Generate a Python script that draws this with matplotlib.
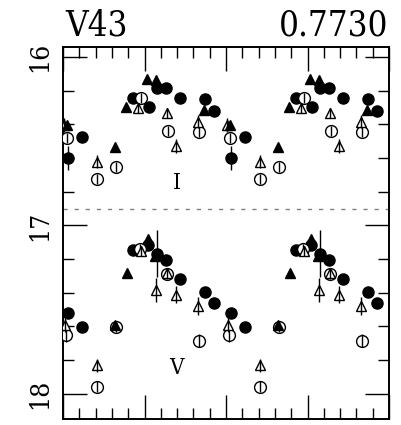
import numpy as np
import matplotlib
matplotlib.use("Agg")
import matplotlib.pyplot as plt
from matplotlib.ticker import MultipleLocator

# star name and period
star = "V43"
period = "0.7730"

# I band (upper curve), phase in [-0.5, 0.5)
I_fc_ph = [-0.385, -0.467, -0.069, 0.028, 0.075, 0.130, 0.218, 0.371, 0.426]
I_fc_mag = [16.473, 16.601, 16.245, 16.295, 16.182, 16.182, 16.245, 16.251, 16.320]
I_fc_err = [0.0, 0.07, 0.0, 0.0, 0.0, 0.0, 0.0, 0.0, 0.0]

I_ft_ph = [-0.477, -0.181, -0.113, 0.017, 0.071, 0.365]
I_ft_mag = [16.404, 16.536, 16.295, 16.132, 16.136, 16.315]

I_oc_ph = [-0.477, -0.293, -0.175, -0.023, 0.142, 0.336]
I_oc_mag = [16.481, 16.726, 16.651, 16.245, 16.439, 16.443]
I_oc_err = [0.03, 0.03, 0.03, 0.03, 0.03, 0.03]

I_ot_ph = [-0.496, -0.293, -0.042, 0.136, 0.193, 0.326]
I_ot_mag = [16.404, 16.621, 16.304, 16.334, 16.528, 16.384]
I_ot_err = [0.04, 0.04, 0.03, 0.03, 0.04, 0.04]

# V band (lower curve)
V_fc_ph = [-0.467, -0.385, -0.072, 0.023, 0.075, 0.130, 0.218, 0.371, 0.426]
V_fc_mag = [17.518, 17.601, 17.145, 17.116, 17.169, 17.205, 17.318, 17.393, 17.462]
V_fc_err = [0.0, 0.0, 0.0, 0.0, 0.14, 0.0, 0.0, 0.0, 0.0]

V_ft_ph = [-0.181, -0.109, 0.020, 0.065]
V_ft_mag = [17.591, 17.284, 17.082, 17.180]

V_oc_ph = [-0.482, -0.293, -0.175, -0.028, 0.140, 0.336]
V_oc_mag = [17.650, 17.957, 17.601, 17.141, 17.288, 17.684]
V_oc_err = [0.04, 0.03, 0.03, 0.03, 0.03, 0.04]

V_ot_ph = [-0.488, -0.293, -0.023, 0.138, 0.071, 0.193, 0.326]
V_ot_mag = [17.591, 17.832, 17.150, 17.282, 17.383, 17.412, 17.478]
V_ot_err = [0.04, 0.04, 0.03, 0.03, 0.07, 0.05, 0.055]

split_mag = 16.9

font = dict(family="DejaVu Serif", stretch="condensed")


def twice(ph, *vals):
    # plot each point at phase and phase+1
    ph = np.asarray(ph)
    out = [np.concatenate([ph, ph + 1])]
    for v in vals:
        v = np.asarray(v)
        out.append(np.concatenate([v, v]))
    return out


def points(ax, x, y, e, z, **kw):
    ax.plot(x, y, ls="none", zorder=z, **kw)
    e = np.asarray(e)
    m = e > 0
    ax.vlines(x[m], y[m] - e[m], y[m] + e[m], color="black", lw=1, zorder=z + 0.1)


fig = plt.figure(figsize=(4.01, 4.25), dpi=100)
ax = fig.add_axes([63 / 401, 1 - 419 / 425, 326 / 401, 372 / 425])

for band in ("I", "V"):
    g = globals()
    x, y, e = twice(g[band + "_fc_ph"], g[band + "_fc_mag"], g[band + "_fc_err"])
    points(ax, x, y, e, 3, marker="o", ms=8, color="black")
    x, y, e = twice(g[band + "_oc_ph"], g[band + "_oc_mag"], g[band + "_oc_err"])
    points(ax, x, y, e, 4, marker="o", ms=8.5, mfc="white", mec="black", mew=1)
    x, y, e = twice(g[band + "_ot_ph"], g[band + "_ot_mag"], g[band + "_ot_err"])
    points(ax, x, y, e, 5, marker="^", ms=7, mfc="white", mec="black", mew=1)
    x, y = twice(g[band + "_ft_ph"], g[band + "_ft_mag"])
    ax.plot(x, y, "^", ms=7.5, color="black", zorder=6)

ax.axhline(split_mag, color="gray", lw=1, ls=(0, (3, 5)))

ax.text(0.198, 16.75, "I", ha="center", va="center", fontsize=16, **font)
ax.text(0.198, 17.847, "V", ha="center", va="center", fontsize=16, **font)

ax.set_xlim(-0.5, 1.5)
ax.set_ylim(18.15, 15.94)
ax.xaxis.set_major_locator(MultipleLocator(0.5))
ax.xaxis.set_minor_locator(MultipleLocator(0.1))
ax.yaxis.set_major_locator(MultipleLocator(1))
ax.yaxis.set_minor_locator(MultipleLocator(0.2))
ax.tick_params(which="both", direction="in", top=True, right=True,
               labelbottom=False, width=1)
ax.tick_params(which="major", length=17)
ax.tick_params(which="minor", length=8)
ax.set_yticks([16, 17, 18])
ax.set_yticklabels(["16", "17", "18"], rotation=90, va="center",
                   fontsize=19, **font)
ax.tick_params(axis="y", pad=8)
for s in ax.spines.values():
    s.set_linewidth(1.4)

fig.text(65 / 401, 1 - 36 / 425, star, ha="left", va="baseline", fontsize=25, **font)
fig.text(388 / 401, 1 - 36 / 425, period, ha="right", va="baseline", fontsize=25, **font)

fig.savefig("out.png", dpi=100)
